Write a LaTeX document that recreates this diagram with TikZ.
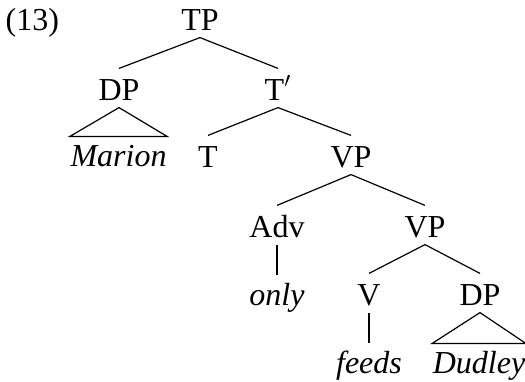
\documentclass[tikz,border=0pt]{standalone}
\usepackage{fontspec}
\setmainfont{Liberation Serif}
\newcommand\treefont{\fontsize{16}{19}\selectfont}
\begin{document}
\begin{tikzpicture}[
  x=0.5pt, y=-0.5pt,
  line width=0.6pt,
  every node/.style={anchor=base, inner xsep=0pt, inner ysep=3.5pt, font=\treefont},
  cat/.style={text height=12pt, text depth=0pt},
  leaf/.style={text height=11pt, font=\treefont\itshape}
  ]
\useasboundingbox (0,0) rectangle (525,381);
\node [anchor=base west] (ex) at (5,30) {(13)};
\node [cat] (tp) at (200,30) {TP};
\node [cat] (dpa) at (119,100) {DP};
\node [cat] (tbar) at (278,100) {T$'$};
\node [leaf] (marion) at (118.5,166) {Marion};
\node [cat] (t) at (208,167) {T};
\node [cat] (vpa) at (351,167) {VP};
\node [cat] (adv) at (277,237) {Adv};
\node [cat] (vpb) at (425,237) {VP};
\node [leaf] (only) at (277,305) {only};
\node [cat] (v) at (369,305) {V};
\node [cat] (dpb) at (480,305) {DP};
\node [leaf] (feeds) at (369,373) {feeds};
\node [leaf] (dudley) at (479,373) {Dudley};
\draw (tp.south) -- (dpa.north);
\draw (tp.south) -- (tbar.north);
\draw (dpa.south) -- (marion.north west) -- (marion.north east) -- cycle;
\draw (tbar.south) -- (t.north);
\draw (tbar.south) -- (vpa.north);
\draw (vpa.south) -- (adv.north);
\draw (vpa.south) -- (vpb.north);
\draw (adv.south) -- (only.north);
\draw (vpb.south) -- (v.north);
\draw (vpb.south) -- (dpb.north);
\draw (v.south) -- (feeds.north);
\draw (dpb.south) -- (dudley.north west) -- (dudley.north east) -- cycle;
\end{tikzpicture}
\end{document}
